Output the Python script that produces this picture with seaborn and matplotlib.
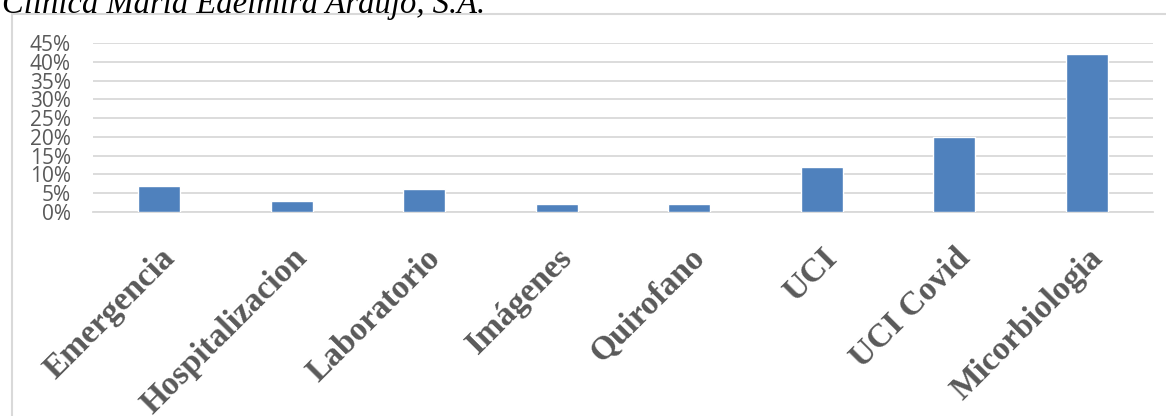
import matplotlib
matplotlib.use("Agg")
import matplotlib.pyplot as plt
import seaborn as sns
import pandas as pd
from matplotlib.patches import Rectangle
from matplotlib.ticker import PercentFormatter, MultipleLocator

categories = ["Emergencia", "Hospitalizacion", "Laboratorio", "Imágenes",
              "Quirofano", "UCI", "UCI Covid", "Micorbiologia"]
values = [0.07, 0.03, 0.06, 0.02, 0.02, 0.12, 0.20, 0.42]
title_text = "Clínica María Edelmira Araújo, S.A."

df = pd.DataFrame({"cat": categories, "val": values})

sns.set_theme(style="white")
W, H = 1166, 416
fig = plt.figure(figsize=(W / 100, H / 100), dpi=100)
ax = fig.add_axes([93 / W, 1 - 212 / H, (1153 - 93) / W, (212 - 43) / H])

sns.barplot(data=df, x="cat", y="val", color="#4f81bd", saturation=1,
            width=0.32, ax=ax, zorder=3)

ax.set_ylim(0, 0.45)
ax.yaxis.set_major_locator(MultipleLocator(0.05))
ax.yaxis.set_major_formatter(PercentFormatter(1.0, decimals=0))
ax.grid(axis="y", color="#d9d9d9", linewidth=1.3, zorder=0)
ax.set_axisbelow(True)
for s in ["top", "right", "left"]:
    ax.spines[s].set_visible(False)
ax.spines["bottom"].set_color("#d9d9d9")
ax.spines["bottom"].set_linewidth(1.3)
ax.set_xlabel("")
ax.set_ylabel("")
ax.tick_params(axis="y", length=0, pad=16, labelsize=15, labelcolor="#595959")
ax.tick_params(axis="x", length=0, pad=22)
for lbl in ax.get_yticklabels():
    lbl.set_fontfamily("Open Sans")
ax.set_xticks(range(len(categories)))
ax.set_xticklabels(categories, rotation=45, ha="right", rotation_mode="anchor",
                   fontfamily="Liberation Serif", fontweight="bold",
                   fontsize=24, color="#595959")

fig.patches.append(Rectangle((12 / W, -0.1), 1.2, 1 - 14 / H + 0.1,
                             transform=fig.transFigure, fill=False,
                             edgecolor="#d9d9d9", linewidth=1.5, zorder=0))
fig.text(0.002, 1 - 13 / H, title_text, fontfamily="Liberation Serif",
         fontstyle="italic", fontsize=23.5, color="black", ha="left",
         va="baseline")

fig.savefig("out.png", dpi=100)
